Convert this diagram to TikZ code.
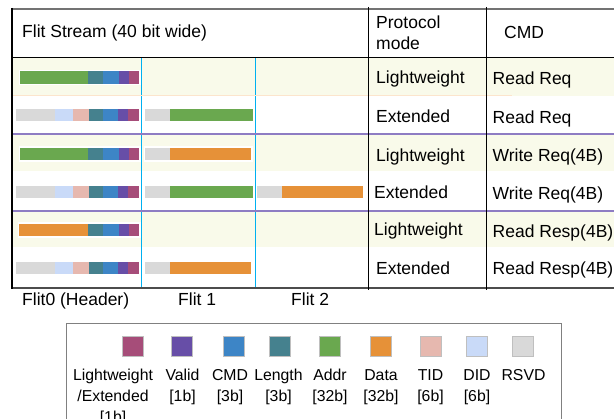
\documentclass[tikz,border=0pt]{standalone}
\usepackage{fontspec}
\setmainfont{Liberation Sans}

\definecolor{lwbit}{HTML}{A64D79}
\definecolor{validbit}{HTML}{674EA7}
\definecolor{cmdbit}{HTML}{3D85C6}
\definecolor{lenbit}{HTML}{45818E}
\definecolor{addrbit}{HTML}{6AA84F}
\definecolor{databit}{HTML}{E69138}
\definecolor{tidbit}{HTML}{E6B8AF}
\definecolor{didbit}{HTML}{C9DAF8}
\definecolor{rsvdbit}{HTML}{D9D9D9}
\definecolor{rowband}{RGB}{249,250,234}
\definecolor{flitline}{RGB}{0,176,240}
\definecolor{groupline}{HTML}{8E7CC3}
\definecolor{peachline}{HTML}{FCE5CD}

\begin{document}
\begin{tikzpicture}[x=1pt,y=-1pt,
    txt/.style={inner sep=0pt,anchor=base west,font=\fontsize{17.5}{21}\selectfont},
    leg/.style={inner sep=0pt,anchor=base,align=center,font=\fontsize{15.8}{21}\selectfont}]
    \useasboundingbox (0,0) rectangle (614,419);
    \def\barH{6.2} % half height of a flit bar
    \def\colA{368.3} % left edge of the protocol mode column
    \def\colB{486.5} % left edge of the cmd column
    \def\lwAddr{20/88/addrbit,88/102.5/lenbit,102.5/119/cmdbit,119/129/validbit,129/139/lwbit}
    \def\lwData{19/88/databit,88/102.5/lenbit,102.5/119/cmdbit,119/129/validbit,129/139/lwbit}
    \def\extHead{16/55/rsvdbit,55/73/didbit,73/89/tidbit,89/103/lenbit,103/118/cmdbit,118/128/validbit,128/139/lwbit}
    \def\flitAddr{145/170/rsvdbit,170/253/addrbit}
    \def\flitData{145/170/rsvdbit,170/251/databit}
    \def\flitDataB{257/282/rsvdbit,282/363/databit}

    % shaded rows
    \foreach \ya/\yb in {58/96,135/171,212/247} {
        \fill[rowband] (12,\ya) rectangle (614,\yb);
    }

    % flit bars
    \foreach \yc/\xa/\xb/\segs in {77.5/20/139/\lwAddr, 115/16/139/\extHead, 115/145/253/\flitAddr,
        154/20/139/\lwAddr, 154/145/251/\flitData, 192/16/139/\extHead, 192/145/253/\flitAddr,
        192/257/363/\flitDataB, 230/19/139/\lwData, 268/16/139/\extHead, 268/145/251/\flitData} {
        \fill[white] (\xa-1.5,\yc-\barH-1.5) rectangle (\xb+1.5,\yc+\barH+1.5);
        \edef\seglist{\segs}
        \foreach \sa/\sb/\col in \seglist {
            \fill[\col] (\sa,\yc-\barH) rectangle (\sb,\yc+\barH);
        }
    }

    % flit boundaries and row separators
    \foreach \x in {141.7,255.3} {
        \draw[flitline, line width=1.4pt] (\x,58) -- (\x,288);
    }
    \draw[peachline, line width=1pt] (12,96) -- (512,96);
    \foreach \y in {134,211} {
        \draw[groupline, line width=1.5pt] (12,\y) -- (614,\y);
    }

    % table frame
    \draw[black!55, line width=2pt] (12,9) -- (614,9);
    \draw[line width=1.5pt] (12,57.5) -- (614,57.5);
    \draw[black!70, line width=1.5pt] (12,288) -- (614,288);
    \draw[line width=1.5pt] (12,8) -- (12,289);
    \foreach \x in {\colA,\colB} {
        \draw[line width=1.2pt] (\x,7) -- (\x,290);
    }

    % header
    \node[txt] (title) at (22,38) {Flit Stream (40 bit wide)};
    \node[txt] (modehead1) at (376,29) {Protocol};
    \node[txt] (modehead2) at (376,50) {mode};
    \node[txt] (cmdhead) at (504,39) {CMD};

    % rows
    \foreach \i/\ym/\yc/\xm/\m/\cmdtext in {1/84/85/376/Lightweight/Read Req, 2/122.5/123.5/376/Extended/Read Req,
        3/161.5/161.5/376/Lightweight/Write Req(4B), 4/198.5/199.5/374/Extended/Write Req(4B),
        5/235.5/238/374/Lightweight/Read Resp(4B), 6/274.5/274.5/376/Extended/Read Resp(4B)} {
        \node[txt] (mode\i) at (\xm,\ym) {\m};
        \node[txt] (cmd\i) at (492.5,\yc) {\cmdtext};
    }

    % flit labels
    \node[txt] (flit0) at (22,306) {Flit0 (Header)};
    \node[txt] (flit1) at (178,306) {Flit 1};
    \node[txt] (flit2) at (291,306) {Flit 2};

    % legend (label y = baseline of its last line)
    \draw[black!50, line width=0.8pt] (66.7,323.5) rectangle (561,430);
    \foreach \n/\x/\col/\lx/\ly/\lbl in {lw/121.7/lwbit/113/423/{Lightweight\\/Extended\\{[1b]}},
        valid/171/validbit/182.5/402/{Valid\\{[1b]}}, cmd/222.7/cmdbit/230/402/{CMD\\{[3b]}},
        len/269/lenbit/278.5/402/{Length\\{[3b]}}, addr/319.3/addrbit/330/402/{Addr\\{[32b]}},
        data/370/databit/381/402/{Data\\{[32b]}}, tid/420/tidbit/430.5/402/{TID\\{[6b]}},
        did/466/didbit/477/402/{DID\\{[6b]}}, rsvd/512/rsvdbit/523.5/381/{RSVD}} {
        \draw[black!25, fill=\col] (\x,336) rectangle ++(21,20);
        \node[leg] (leg\n) at (\lx,\ly) {\lbl};
    }
\end{tikzpicture}
\end{document}
